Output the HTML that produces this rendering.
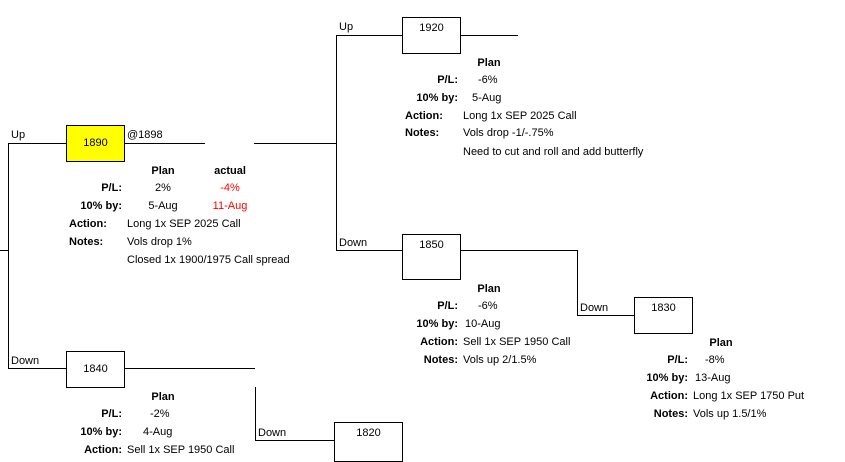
<!DOCTYPE html>
<html><head><meta charset="utf-8"><style>
body{margin:0;width:845px;height:458px;overflow:hidden;background:#fff;position:relative;font-family:"Liberation Sans",sans-serif;font-size:11px;color:#000}
.h{position:absolute;height:1px;background:#000}
.v{position:absolute;width:1px;background:#000}
.b{position:absolute;border:1px solid #000;box-sizing:border-box;text-align:center;background:#fff}
.t{position:absolute;line-height:14px;white-space:nowrap}
.r{text-align:right}
.c{text-align:center}
.bd{font-weight:bold}
.red{color:#f00}
</style></head><body>
<!-- lines -->
<div class="h" style="left:0;top:250px;width:9px"></div>
<div class="v" style="left:8px;top:143px;height:226px"></div>
<div class="h" style="left:8px;top:143px;width:58px"></div>
<div class="h" style="left:124px;top:143px;width:81px"></div>
<div class="h" style="left:254px;top:143px;width:83px"></div>
<div class="v" style="left:336px;top:35px;height:216px"></div>
<div class="h" style="left:336px;top:35px;width:66px"></div>
<div class="h" style="left:460px;top:35px;width:58px"></div>
<div class="h" style="left:336px;top:250px;width:66px"></div>
<div class="h" style="left:460px;top:250px;width:118px"></div>
<div class="v" style="left:577px;top:250px;height:66px"></div>
<div class="h" style="left:577px;top:315px;width:57px"></div>
<div class="h" style="left:8px;top:368px;width:58px"></div>
<div class="h" style="left:124px;top:368px;width:131px"></div>
<div class="v" style="left:255px;top:387px;height:54px"></div>
<div class="h" style="left:255px;top:440px;width:79px"></div>
<!-- boxes -->
<div class="b" style="left:66px;top:125px;width:59px;height:37px;background:#ffff00;line-height:35px">1890</div>
<div class="b" style="left:402px;top:17px;width:59px;height:37px;padding-top:3px;line-height:14px">1920</div>
<div class="b" style="left:402px;top:234px;width:59px;height:46px;padding-top:3px;line-height:14px">1850</div>
<div class="b" style="left:634px;top:297px;width:59px;height:37px;padding-top:3px;line-height:14px">1830</div>
<div class="b" style="left:66px;top:351px;width:59px;height:37px;line-height:35px">1840</div>
<div class="b" style="left:334px;top:422px;width:69px;height:40px;padding-top:3px;line-height:14px">1820</div>
<!-- branch labels -->
<div class="t" style="left:11px;top:128px">Up</div>
<div class="t" style="left:127px;top:128px">@1898</div>
<div class="t" style="left:339px;top:20px">Up</div>
<div class="t" style="left:339px;top:236px">Down</div>
<div class="t" style="left:580px;top:301px">Down</div>
<div class="t" style="left:11px;top:354px">Down</div>
<div class="t" style="left:258px;top:426px">Down</div>
<!-- 1890 block -->
<div class="t bd c" style="left:133px;width:60px;top:164px">Plan</div>
<div class="t bd c" style="left:200px;width:60px;top:164px">actual</div>
<div class="t bd r" style="left:40px;width:82px;top:181px">P/L:</div>
<div class="t c" style="left:133px;width:60px;top:181px">2%</div>
<div class="t c red" style="left:200px;width:60px;top:181px">-4%</div>
<div class="t bd r" style="left:40px;width:82px;top:199px">10% by:</div>
<div class="t c" style="left:133px;width:60px;top:199px">5-Aug</div>
<div class="t c red" style="left:200px;width:60px;top:199px">11-Aug</div>
<div class="t bd" style="left:69px;top:217px">Action:</div>
<div class="t" style="left:127px;top:217px">Long 1x SEP 2025 Call</div>
<div class="t bd" style="left:69px;top:235px">Notes:</div>
<div class="t" style="left:127px;top:235px">Vols drop 1%</div>
<div class="t" style="left:127px;top:253px">Closed 1x 1900/1975 Call spread</div>
<!-- 1920 block -->
<div class="t bd c" style="left:459px;width:60px;top:56px">Plan</div>
<div class="t bd r" style="left:376px;width:82px;top:73px">P/L:</div>
<div class="t" style="left:478px;top:73px">-6%</div>
<div class="t bd r" style="left:376px;width:82px;top:91px">10% by:</div>
<div class="t" style="left:472px;top:91px">5-Aug</div>
<div class="t bd" style="left:405px;top:109px">Action:</div>
<div class="t" style="left:463px;top:109px">Long 1x SEP 2025 Call</div>
<div class="t bd" style="left:405px;top:126px">Notes:</div>
<div class="t" style="left:463px;top:126px">Vols drop -1/-.75%</div>
<div class="t" style="left:463px;top:145px">Need to cut and roll and add butterfly</div>
<!-- 1850 block -->
<div class="t bd c" style="left:459px;width:60px;top:282px">Plan</div>
<div class="t bd r" style="left:376px;width:82px;top:299px">P/L:</div>
<div class="t" style="left:478px;top:299px">-6%</div>
<div class="t bd r" style="left:376px;width:82px;top:317px">10% by:</div>
<div class="t" style="left:465px;top:317px">10-Aug</div>
<div class="t bd r" style="left:376px;width:82px;top:335px">Action:</div>
<div class="t" style="left:463px;top:335px">Sell 1x SEP 1950 Call</div>
<div class="t bd r" style="left:376px;width:82px;top:353px">Notes:</div>
<div class="t" style="left:463px;top:353px">Vols up 2/1.5%</div>
<!-- 1830 block -->
<div class="t bd c" style="left:691px;width:60px;top:336px">Plan</div>
<div class="t bd r" style="left:606px;width:82px;top:353px">P/L:</div>
<div class="t" style="left:705px;top:353px">-8%</div>
<div class="t bd r" style="left:606px;width:82px;top:371px">10% by:</div>
<div class="t" style="left:695px;top:371px">13-Aug</div>
<div class="t bd r" style="left:606px;width:82px;top:389px">Action:</div>
<div class="t" style="left:693px;top:389px">Long 1x SEP 1750 Put</div>
<div class="t bd r" style="left:606px;width:82px;top:407px">Notes:</div>
<div class="t" style="left:693px;top:407px">Vols up 1.5/1%</div>
<!-- 1840 block -->
<div class="t bd c" style="left:133px;width:60px;top:390px">Plan</div>
<div class="t bd r" style="left:40px;width:82px;top:407px">P/L:</div>
<div class="t" style="left:150px;top:407px">-2%</div>
<div class="t bd r" style="left:40px;width:82px;top:425px">10% by:</div>
<div class="t" style="left:143px;top:425px">4-Aug</div>
<div class="t bd r" style="left:40px;width:82px;top:443px">Action:</div>
<div class="t" style="left:127px;top:443px">Sell 1x SEP 1950 Call</div>
</body></html>
